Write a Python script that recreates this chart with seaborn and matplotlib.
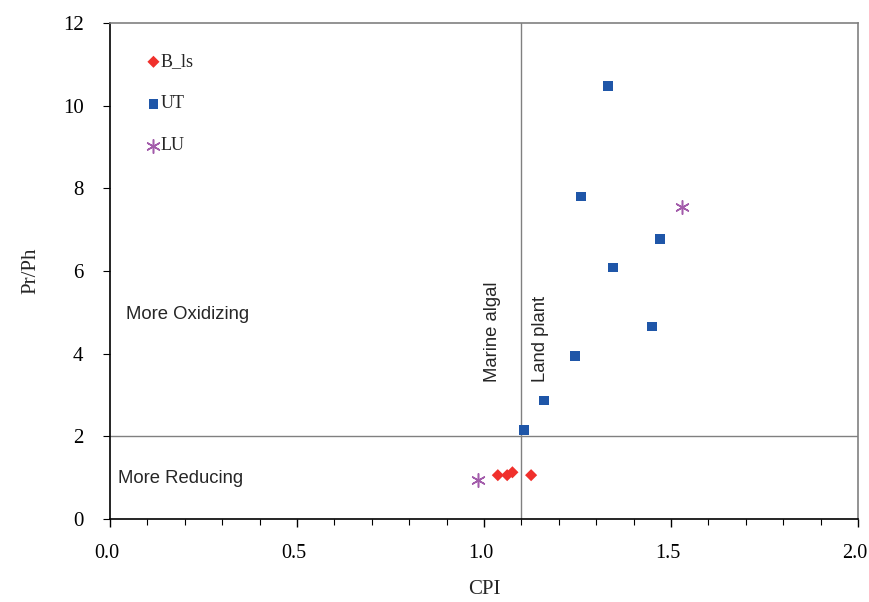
import matplotlib
matplotlib.use("Agg")
import matplotlib.pyplot as plt
import matplotlib.transforms as mtransforms
import seaborn as sns
import pandas as pd
from matplotlib.ticker import MultipleLocator

# Data
b_ls_cpi = [1.037, 1.062, 1.076, 1.126]
b_ls_prph = [1.06, 1.06, 1.13, 1.06]
ut_cpi = [1.332, 1.259, 1.471, 1.345, 1.449, 1.243, 1.160, 1.107]
ut_prph = [10.48, 7.80, 6.78, 6.08, 4.66, 3.94, 2.87, 2.15]
lu_cpi = [1.529, 0.984]
lu_prph = [7.55, 0.94]

sns.set_style("white")
plt.rcParams['font.family'] = ['Liberation Serif', 'DejaVu Serif']

fig = plt.figure(figsize=(8.7, 6.02), dpi=100)
ax = fig.add_axes([0.1264, 0.1379, 0.8598, 0.8239])

df_b = pd.DataFrame({"CPI": b_ls_cpi, "PrPh": b_ls_prph})
df_u = pd.DataFrame({"CPI": ut_cpi, "PrPh": ut_prph})
df_l = pd.DataFrame({"CPI": lu_cpi, "PrPh": lu_prph})

# reference lines
ax.axvline(1.1, color="#808080", lw=1.0, zorder=1)
ax.axhline(2.0, color="#808080", lw=1.0, zorder=1)

sns.scatterplot(data=df_b, x="CPI", y="PrPh", ax=ax, marker="D", s=38,
                color="#f0302c", edgecolor="none", label="B_ls", zorder=3)
sns.scatterplot(data=df_u, x="CPI", y="PrPh", ax=ax, marker="s", s=48,
                color="#1f56a8", edgecolor="none", label="UT", zorder=3)
sns.scatterplot(data=df_l, x="CPI", y="PrPh", ax=ax, marker=(6, 2, 0), s=95,
                color="#a35cab", linewidth=1.1, label="LU", zorder=3)

ax.set_xlim(0, 2.0)
ax.set_ylim(0, 12)
ax.xaxis.set_major_locator(MultipleLocator(0.5))
ax.xaxis.set_minor_locator(MultipleLocator(0.1))
ax.yaxis.set_major_locator(MultipleLocator(2))
ax.xaxis.set_major_formatter(matplotlib.ticker.FormatStrFormatter("%.1f"))

ax.tick_params(axis="x", which="major", direction="out", length=6, width=1, colors="black",
               labelsize=14.5, pad=12, bottom=True)
ax.tick_params(axis="x", which="minor", direction="out", length=4, width=0.8, colors="black", bottom=True)
ax.tick_params(axis="y", which="major", direction="out", length=5, width=0.8, colors="black",
               labelsize=15, pad=14, left=True)

for s in ["left", "bottom"]:
    ax.spines[s].set_color("black")
    ax.spines[s].set_linewidth(1.2)
for s in ["top", "right"]:
    ax.spines[s].set_visible(True)
    ax.spines[s].set_color("#808080")
    ax.spines[s].set_linewidth(1.2)

ax.set_xlabel("CPI", fontsize=15, labelpad=12)
ax.set_ylabel("Pr/Ph", fontsize=15, labelpad=16)

sans = ['Liberation Sans', 'DejaVu Sans']
ax.text(0.043, 4.95, "More Oxidizing", family=sans, fontsize=13.3, va="center", ha="left")
ax.text(0.021, 0.97, "More Reducing", family=sans, fontsize=13.3, va="center", ha="left")
ax.text(1.024, 3.31, "Marine algal", family=sans, fontsize=13.3, rotation=90, va="bottom", ha="center")
ax.text(1.152, 3.31, "Land plant", family=sans, fontsize=13.3, rotation=90, va="bottom", ha="center")

leg = ax.legend(loc="upper left", bbox_to_anchor=(0.034, 0.953), frameon=False,
                fontsize=13, handletextpad=-0.2, handlelength=1.2, labelspacing=1.38,
                borderaxespad=0)

# shift x tick labels slightly left, as in the reference
offset = mtransforms.ScaledTranslation(-3 / 100, 0, fig.dpi_scale_trans)
for lbl in ax.get_xticklabels():
    lbl.set_transform(lbl.get_transform() + offset)

fig.savefig("out.png", dpi=100)
